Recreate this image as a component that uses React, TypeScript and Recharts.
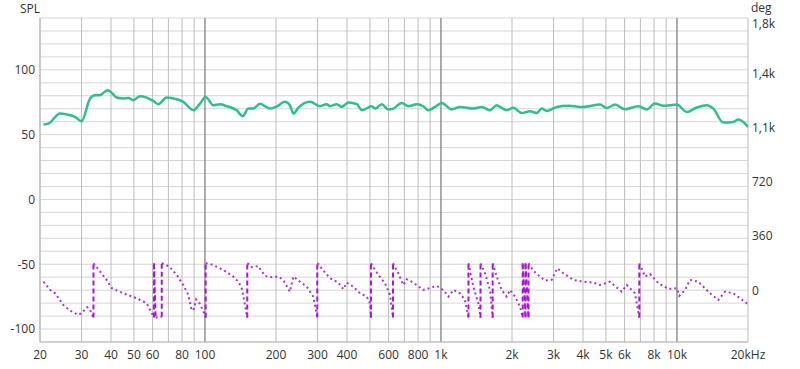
import { LineChart, Line, XAxis, YAxis, CartesianGrid, ReferenceLine } from 'recharts';

// SPL trace (Hz / dB)
const SPL_FREQ = [
  20.7, 21.7, 24.3, 26.8, 28.1, 30.0, 32.6, 34.2, 35.9, 38.6, 39.6, 42.3, 45.1, 47.3, 49.7, 53.1,
  56.6, 60.4, 63.4, 68.8, 73.4, 81.0, 89.3, 95.3, 100.7, 108.5, 115.8, 123.7, 136.3, 144.5, 152.7,
  160.3, 171.1, 188.7, 201, 218, 229, 237, 249, 279, 307, 328, 339, 362, 380, 405, 440, 462, 509,
  526, 561, 598, 628, 682, 727, 789, 842, 884, 944, 1007, 1111, 1204, 1371, 1488, 1614, 1723, 1779,
  1899, 2025, 2198, 2384, 2546, 2672, 2806, 3093, 3464, 4010, 4720, 5040, 5464, 6024, 6860, 7446,
  8072, 8754, 9344, 9976, 11000, 12126, 13366, 14258, 15722, 17330, 18198, 19104, 20000,
];
const SPL_DB = [
  57.8, 58.5, 66.3, 65, 63.7, 60.3, 77.9, 80.4, 80.4, 84.3, 83.5, 78.6, 77.9, 78.3, 76.6, 79.7,
  78.6, 76, 73.5, 78.6, 77.9, 75.3, 68.8, 74, 79.1, 72.7, 73.5, 71.9, 68.8, 64.2, 70.1,
  70.1, 73.8, 70.1, 71.6, 75.3, 72.7, 66.3, 70.9, 75.3, 71.9, 73.5, 71.9, 73.5, 71.4, 74.8, 73.5, 68.8, 71.9,
  70.1, 73.5, 69.4, 70.1, 74.5, 71.9, 73.5, 71.9, 68.8, 71.4, 74.5, 69.4, 71.4, 70.1, 71.4, 68.8, 72.7, 71.4,
  68.8, 70.8, 66.7, 68.1, 66.7, 70.1, 68.3, 71.4, 72.2, 71.4, 73.2, 70.6, 73.2, 69.6, 71.9, 69.4,
  74, 72.2, 72.7, 73.2, 67.5, 70.9, 72.7, 70.1, 59.3, 59.8, 61.6, 59.8, 55.9,
];

// phase trace (Hz / deg), repeated frequency = wrap
const PHASE_FREQ = [
  20.7, 22.1, 23.2, 25.1, 26.8, 29.1, 30.0, 31.7, 32.6, 33.7, 33.7, 34.8, 38.3, 40.3, 45.1, 51.4,
  56.6, 60.8, 60.8, 61.8, 65.6, 65.6, 67.7, 71.1, 75.9, 81.0, 85.0, 87.5, 89.3, 91.8, 95.3, 100.0,
  100.7, 100.7, 105.0, 110.3, 119.6, 131.9, 138.5, 143.1, 147.8, 151.1, 151.1, 152.7, 157.8, 168.3,
  179.6, 191.8, 204.5, 214.7, 229, 237, 252.8, 269.9, 287.8, 299.2, 299.2, 302.2, 317.4, 339, 367.4,
  385.8, 398.7, 425.3, 453.9, 484.6, 500.5, 505.1, 505.1, 542.7, 579.4, 608.3, 626.4, 626.4, 659.7,
  692.5, 715.8, 763.6, 842, 959.5, 1023, 1075, 1128, 1204, 1264, 1308, 1308, 1371, 1440, 1471, 1471,
  1537, 1614, 1656, 1656, 1723, 1808, 1899, 1961, 2059, 2162, 2220, 2220, 2282, 2282, 2350, 2350,
  2462, 2628, 2760, 2946, 3112, 3300, 3636, 4010, 4422, 4720, 5204, 5832, 6124, 6640, 6926, 6926,
  7322, 7686, 8338, 9190, 9976, 10232, 10820, 11358, 12316, 13804, 14974, 15984, 17330, 18502,
  19748, 20000,
];
const PHASE_DEG = [
  58, 3, -19, -96, -134, -162, -151, -111, -129, -180, 180, 154, 70, 15, -19, -52,
  -85, -180, 180, -180, -175, 180, 174, 154, 103, 36, -30, -118, -134, -60, -90, -162,
  -180, 180, 176, 162, 136, 92, 58, 15, -96, -180, 180, 176, 154, 162,
  96, 88, 92, 70, -8, 92, 58, 25, -41, -180, 180, 176, 131, 81, 52,
  8, 52, 25, -19, -41, -85, -180, 180, 103, 48, -30, -180, 180, 114,
  36, 74, 52, 3, 30, 3, -41, 3, -19, -63, -180, 180, 25, -85, -180, 180,
  114, 3, -180, 180, 92, 3, -41, 3, -41, -107, -180, 180, -180, 180, -180, 180,
  131, 92, 65, 70, 147, 114, 70, 58, 52, 36, 58, -8, 36, -19, -180, 180,
  92, 109, 48, 10, 15, -36, 3, 70, 58, -19, -63, -8, -19, -52,
  -85, -90,
];

const X_GRID = [
  20, 30, 40, 50, 60, 70, 80, 90, 100, 200, 300, 400, 500, 600, 700, 800, 900, 1000, 2000, 3000,
  4000, 5000, 6000, 7000, 8000, 9000, 10000, 20000,
];
const X_LABELS: Record<number, string> = {
  20: '20', 30: '30', 40: '40', 50: '50', 60: '60', 80: '80', 100: '100', 200: '200', 300: '300',
  400: '400', 600: '600', 800: '800', 1000: '1k', 2000: '2k', 3000: '3k', 4000: '4k', 5000: '5k',
  6000: '6k', 8000: '8k', 10000: '10k', 20000: '20kHz',
};
const DECADES = [100, 1000, 10000];
const SPL_TICKS = [-110, -100, -90, -80, -70, -60, -50, -40, -30, -20, -10, 0, 10, 20, 30, 40, 50, 60, 70, 80, 90, 100, 110, 120, 130, 140];
const SPL_LABELS = [-100, -50, 0, 50, 100];
const DEG_TICKS = [0, 360, 720, 1080, 1440, 1800];
const DEG_LABELS = ['0', '360', '720', '1,1k', '1,4k', '1,8k'];

const FONT = '"Open Sans", "Noto Sans", sans-serif';
const TEXT = '#333';

const splData = SPL_FREQ.map((f, i) => ({ f, db: SPL_DB[i] }));

// dotted trace is broken at wraps, wraps drawn as dashed segments
const phaseData: { f: number; deg: number | null }[] = [];
const wraps: { f: number; deg: number }[][] = [];
PHASE_FREQ.forEach((f, i) => {
  if (i > 0 && Math.abs(PHASE_DEG[i] - PHASE_DEG[i - 1]) > 300) {
    phaseData.push({ f, deg: null });
    wraps.push([
      { f: PHASE_FREQ[i - 1], deg: PHASE_DEG[i - 1] },
      { f, deg: PHASE_DEG[i] },
    ]);
  }
  phaseData.push({ f, deg: PHASE_DEG[i] });
});

function DegTick(props: any) {
  const { x, y, payload } = props;
  const label = DEG_LABELS[DEG_TICKS.indexOf(payload.value)] ?? '';
  // top label sits a bit lower so it clears the "deg" title
  const shift = payload.value === 1800 ? 5 : 0;
  return (
    <text x={x + 2} y={y + shift} dy="0.355em" textAnchor="start" fontSize={12} fill={TEXT} fontFamily={FONT}>
      {label}
    </text>
  );
}

export default function App() {
  const tick = { fontSize: 12, fill: TEXT, fontFamily: FONT };
  return (
    <div style={{ position: 'absolute', left: 0, top: 0, width: 800, height: 369, background: '#fff', fontFamily: FONT }}>
      <div style={{ position: 'absolute', left: 20, top: 0, fontSize: 12, color: TEXT }}>SPL</div>
      <div style={{ position: 'absolute', left: 751, top: -1, fontSize: 12, color: TEXT }}>deg</div>
      <LineChart width={800} height={369} margin={{ top: 18, right: 0, bottom: 0, left: 0 }}>
        <CartesianGrid stroke="#d6d6d6" vertical={false} />
        <CartesianGrid stroke="#bdbdbd" horizontal={false} />
        <XAxis
          dataKey="f"
          type="number"
          scale="log"
          domain={[20, 20000]}
          allowDataOverflow
          ticks={X_GRID}
          interval={0}
          tickFormatter={(v: number) => X_LABELS[v] ?? ''}
          tick={tick}
          tickLine={false}
          axisLine={{ stroke: '#b4b4b4' }}
          height={27}
        />
        <YAxis
          type="number"
          domain={[-110, 140]}
          allowDataOverflow
          ticks={SPL_TICKS}
          interval={0}
          tickFormatter={(v: number) => (SPL_LABELS.includes(v) ? String(v) : '')}
          tick={tick}
          tickLine={false}
          tickSize={3}
          axisLine={{ stroke: '#b4b4b4' }}
          width={40}
        />
        <YAxis
          yAxisId="deg"
          orientation="right"
          type="number"
          domain={[-342, 1807]}
          allowDataOverflow
          ticks={DEG_TICKS}
          interval={0}
          tick={<DegTick />}
          tickLine={false}
          tickSize={0}
          axisLine={false}
          width={52}
        />
        {DECADES.map((d) => (
          <ReferenceLine key={d} x={d} stroke="#7a7a7a" strokeWidth={1} />
        ))}
        <Line
          data={splData}
          dataKey="db"
          type="monotone"
          stroke="#2dbf8e"
          strokeWidth={2.5}
          dot={false}
          isAnimationActive={false}
        />
        <Line
          yAxisId="deg"
          data={phaseData}
          dataKey="deg"
          type="linear"
          stroke="#a535cc"
          strokeWidth={2}
          strokeDasharray="2 3"
          dot={false}
          isAnimationActive={false}
        />
        {wraps.map((w, i) => (
          <Line
            key={i}
            yAxisId="deg"
            data={w}
            dataKey="deg"
            type="linear"
            stroke="#b010e0"
            strokeWidth={2}
            strokeDasharray="5 3"
            dot={false}
            isAnimationActive={false}
          />
        ))}
      </LineChart>
    </div>
  );
}
